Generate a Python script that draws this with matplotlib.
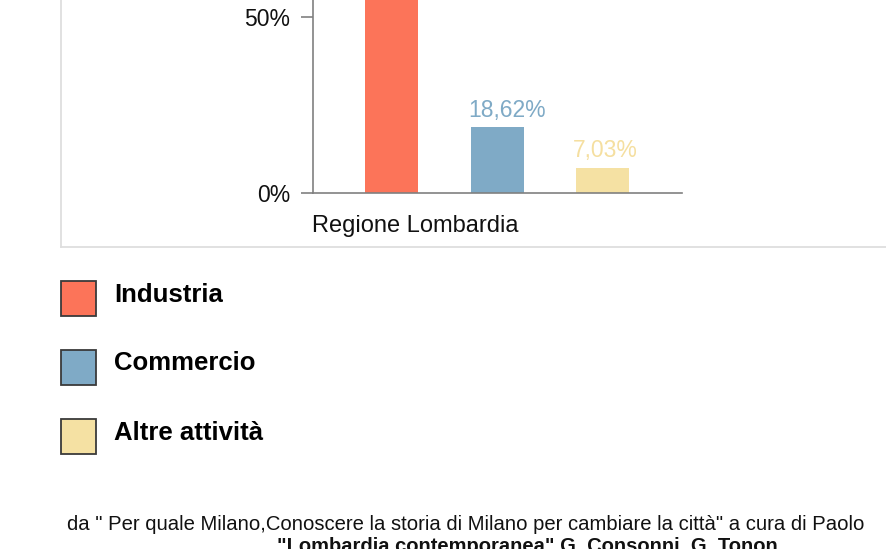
import numpy as np
import matplotlib.pyplot as plt
from matplotlib.patches import Rectangle
from matplotlib.lines import Line2D

# data
categories = ['Industria', 'Commercio', 'Altre attività']
values = [74.35, 18.62, 7.03]
value_labels = ['74,35%', '18,62%', '7,03%']
colors = ['#FC7459', '#7FAAC6', '#F5E1A3']
label_colors = ['#FC7459', '#7FAAC6', '#F5DFA0']
yticks = [0, 50]
ytick_labels = ['0%', '50%']
group_label = 'Regione Lombardia'
source_line1 = 'da " Per quale Milano,Conoscere la storia di Milano per cambiare la città" a cura di Paolo'
source_line2 = '"Lombardia contemporanea" G. Consonni, G. Tonon'

W, H = 886, 549
fig = plt.figure(figsize=(W / 100, H / 100), dpi=100)
fig.patch.set_facecolor('white')

sans = ['Liberation Sans', 'DejaVu Sans']

def px(x, y):
    return x / W, 1 - y / H

# light gray frame around the chart panel (top is cut off)
fig.add_artist(Line2D([61 / W, 61 / W], [1.0, 1 - 246.5 / H], color='#DEDEDE', lw=1.3))
fig.add_artist(Line2D([61 / W, 1.0], [1 - 246.5 / H, 1 - 246.5 / H], color='#DEDEDE', lw=1.3))

# axes: x from 312.7 to 682 px, y: 0 at 192.7 px, 3.52 px per percent
left, right = 312.7, 682
y0 = 192.7
ppu = 3.52
ymax = 100
top = y0 - ymax * ppu
ax = fig.add_axes([left / W, 1 - y0 / H, (right - left) / W, (y0 - top) / H])
ax.set_facecolor('none')

x = np.arange(len(categories))
bw = 0.5
ax.bar(x, values, width=bw, color=colors, zorder=2)
ax.set_xlim(-0.75, 2.75)
ax.set_ylim(0, ymax)

visible_top = y0 / ppu  # percent value at the upper edge of the picture
for xi, v, lab, c in zip(x, values, value_labels, label_colors):
    if v + 8 > visible_top:
        continue  # label lies above the cropped top edge
    ax.text(xi - bw / 2 - 0.03, v + 3.0, lab, ha='left', va='baseline', color=c,
            fontsize=16.5, family=sans)

for s in ['top', 'right']:
    ax.spines[s].set_visible(False)
for s in ['left', 'bottom']:
    ax.spines[s].set_color('#808080')
    ax.spines[s].set_linewidth(1.2)
ax.set_xticks([])
ax.set_yticks(yticks)
ax.set_yticklabels(ytick_labels, fontsize=16.5, family=sans, color='#111111')
ax.tick_params(axis='y', length=9, width=1.2, color='#808080', pad=7)

fig.text(*px(312, 226), group_label, ha='left', va='center', fontsize=17,
         family=sans, color='#111111')

# legend
leg_y = [280.5, 349.5, 418.5]
for cat, c, yy in zip(categories, colors, leg_y):
    fx, fy = px(60.5, yy + 35.5)
    fig.add_artist(Rectangle((fx, fy), 35.5 / W, 35.5 / H, facecolor=c,
                             edgecolor='#3A3A3A', lw=1.3, transform=fig.transFigure))
    fig.text(*px(114, yy + 21), cat, ha='left', va='baseline', fontsize=18.5,
             fontweight='bold', family=sans, color='black')

# source, second line cut by the bottom edge
fig.text(*px(465.5, 530), source_line1, ha='center', va='baseline', fontsize=14.6,
         family=sans, color='#111111')
fig.text(*px(527, 552), source_line2, ha='center', va='baseline', fontsize=14.5,
         fontweight='bold', family=sans, color='#111111')

fig.savefig('out.png', dpi=100)
